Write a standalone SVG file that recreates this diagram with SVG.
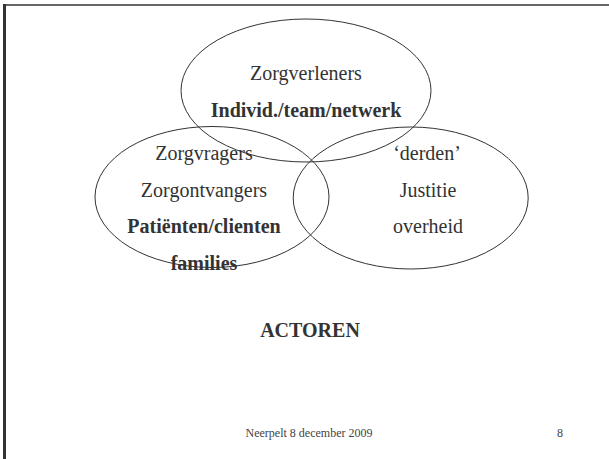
<svg xmlns="http://www.w3.org/2000/svg" width="609" height="459" viewBox="0 0 609 459">
<style>
.t{font-family:"Liberation Serif","Times New Roman",serif;font-size:20px;fill:#333;text-anchor:middle}
.b{font-weight:bold}
.e{fill:none;stroke:#333;stroke-width:1}
.f{font-family:"Liberation Serif","Times New Roman",serif;font-size:12px;fill:#444;text-anchor:middle}
</style>
<rect x="0" y="0" width="609" height="459" fill="#fff"/>
<g id="frame">
<line x1="3" y1="5" x2="609" y2="5" stroke="#666" stroke-width="2"/>
<line x1="4.5" y1="4" x2="4.5" y2="459" stroke="#333" stroke-width="3"/>
</g>
<g id="zorgverleners">
<ellipse class="e" cx="306" cy="90.5" rx="125" ry="71.5"/>
<text class="t" x="306" y="80">Zorgverleners</text>
<text class="t b" x="306" y="117">Individ./team/netwerk</text>
</g>
<g id="zorgvragers">
<text class="t" x="204" y="160">Zorgvragers</text>
<text class="t" x="204" y="196.5">Zorgontvangers</text>
<text class="t b" x="204" y="233">Patiënten/clienten</text>
<text class="t b" x="204" y="270">families</text>
<ellipse class="e" cx="212" cy="197" rx="117" ry="70.5"/>
</g>
<g id="derden">
<ellipse class="e" cx="410.7" cy="198" rx="117.5" ry="71"/>
<text class="t" x="427" y="160">‘derden’</text>
<text class="t" x="428" y="196.5">Justitie</text>
<text class="t" x="428" y="233">overheid</text>
</g>
<g id="connectors"></g>
<g id="labels">
<text class="t b" x="310" y="337">ACTOREN</text>
<text class="f" x="309" y="437">Neerpelt 8 december 2009</text>
<text class="f" x="560" y="437">8</text>
</g>
</svg>
